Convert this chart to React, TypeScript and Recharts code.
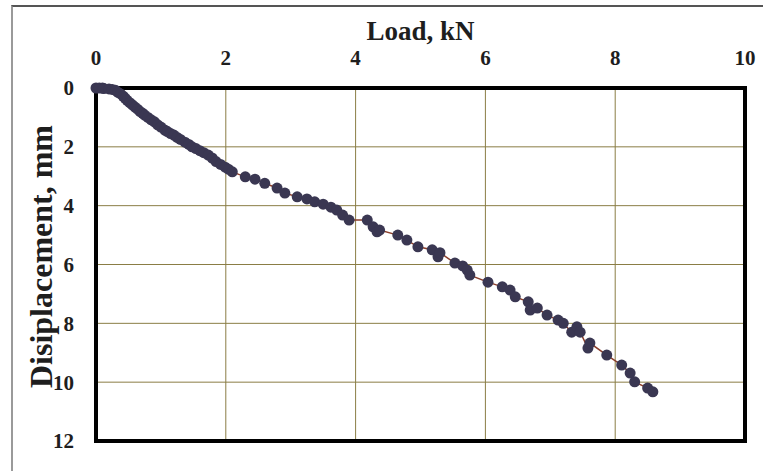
import React from "react"
import {
    CartesianGrid,
    Label,
    ReferenceArea,
    Scatter,
    ScatterChart,
    XAxis,
    YAxis,
} from "recharts"

// Load (kN) and measured displacement (mm) for each reading
const load = [
    0.0, 0.05, 0.1, 0.12, 0.2, 0.25, 0.3, 0.34, 0.38, 0.42, 0.45, 0.48, 0.52,
    0.56, 0.6, 0.64, 0.68, 0.72, 0.75, 0.8, 0.85, 0.9, 0.95, 1.0, 1.06, 1.1,
    1.15, 1.2, 1.25, 1.3, 1.37, 1.43, 1.48, 1.54, 1.6, 1.66, 1.73, 1.79, 1.85,
    1.92, 1.99, 2.04, 2.1, 2.3, 2.45, 2.6, 2.79, 2.91, 3.1, 3.25, 3.37, 3.5,
    3.62, 3.71, 3.8, 3.9, 4.18, 4.27, 4.33, 4.37, 4.65, 4.79, 4.96, 5.18, 5.27,
    5.3, 5.53, 5.65, 5.72, 5.76, 6.04, 6.26, 6.38, 6.46, 6.66, 6.69, 6.8, 6.95,
    7.12, 7.2, 7.33, 7.41, 7.46, 7.58, 7.61, 7.87, 8.1, 8.23, 8.3, 8.5, 8.58,
]
const displacement = [
    0.0, 0.0, 0.0, 0.02, 0.03, 0.05, 0.08, 0.15, 0.2, 0.28, 0.35, 0.42, 0.5,
    0.57, 0.65, 0.72, 0.8, 0.86, 0.92, 1.0, 1.08, 1.15, 1.25, 1.33, 1.43, 1.48,
    1.55, 1.6, 1.68, 1.75, 1.84, 1.92, 2.0, 2.06, 2.13, 2.2, 2.28, 2.38, 2.5,
    2.6, 2.69, 2.76, 2.85, 3.02, 3.1, 3.24, 3.4, 3.57, 3.7, 3.77, 3.87, 3.95,
    4.05, 4.15, 4.32, 4.49, 4.49, 4.72, 4.89, 4.83, 5.0, 5.17, 5.4, 5.5, 5.74,
    5.6, 5.95, 6.05, 6.19, 6.36, 6.6, 6.76, 6.87, 7.1, 7.27, 7.55, 7.48, 7.72,
    7.89, 8.0, 8.3, 8.12, 8.3, 8.84, 8.67, 9.08, 9.42, 9.69, 9.99, 10.2, 10.33,
]

const loadTicks = [0, 2, 4, 6, 8, 10]
const dispTicks = [0, 2, 4, 6, 8, 10, 12]

const data = load.map((x, i) => ({ load: x, disp: displacement[i] }))

const serif = "'Liberation Serif', 'Times New Roman', serif"
const tickStyle = { fill: "#1e1e1e", fontSize: 21, fontWeight: "bold", fontFamily: serif }

const Dot = (props: any) => (
    <circle cx={props.cx} cy={props.cy} r={5.5} fill="#3a3752" />
)

export default function App() {
    return (
        <div style={{ position: "absolute", left: 0, top: 0, width: 763, height: 471, background: "#fff", overflow: "hidden" }}>
            <div
                style={{
                    position: "absolute",
                    left: 11,
                    top: 5,
                    width: 760,
                    height: 480,
                    borderTop: "2px solid #555",
                    borderLeft: "2px solid #9a9a9a",
                }}
            />
            <div style={{ position: "absolute", left: 0, top: 0 }}>
                <ScatterChart
                    width={763}
                    height={471}
                    margin={{ top: 28, right: 18, bottom: 30, left: 36 }}
                >
                    <CartesianGrid stroke="#8a7d45" strokeWidth={1} />
                    <XAxis
                        type="number"
                        dataKey="load"
                        orientation="top"
                        domain={[0, 10]}
                        ticks={loadTicks}
                        height={60}
                        axisLine={false}
                        tickLine={false}
                        tickSize={0}
                        tickMargin={23}
                        tick={tickStyle}
                    >
                        <Label
                            content={({ viewBox }: any) => (
                                <text
                                    x={viewBox.x + viewBox.width / 2}
                                    y={viewBox.y + 12}
                                    textAnchor="middle"
                                    fontFamily={serif}
                                    fontWeight="bold"
                                    fontSize={27}
                                    fill="#1e1e1e"
                                >
                                    Load, kN
                                </text>
                            )}
                        />
                    </XAxis>
                    <YAxis
                        type="number"
                        dataKey="disp"
                        domain={[0, 12]}
                        reversed
                        ticks={dispTicks}
                        width={60}
                        axisLine={false}
                        tickLine={false}
                        tickSize={0}
                        tickMargin={22}
                        tick={tickStyle}
                    >
                        <Label
                            content={({ viewBox }: any) => {
                                const x = viewBox.x + 16
                                const y = viewBox.y + viewBox.height / 2 - 8
                                return (
                                    <text
                                        x={x}
                                        y={y}
                                        transform={`rotate(-90, ${x}, ${y})`}
                                        textAnchor="middle"
                                        fontFamily={serif}
                                        fontWeight="bold"
                                        fontSize={32}
                                        fill="#1e1e1e"
                                    >
                                        Disiplacement, mm
                                    </text>
                                )
                            }}
                        />
                    </YAxis>
                    <ReferenceArea
                        x1={0}
                        x2={10}
                        y1={0}
                        y2={12}
                        fill="none"
                        fillOpacity={0}
                        stroke="#000"
                        strokeWidth={4}
                        ifOverflow="visible"
                    />
                    <Scatter
                        data={data}
                        line={{ stroke: "#8b3f2c", strokeWidth: 1.5 }}
                        lineType="joint"
                        shape={Dot}
                        isAnimationActive={false}
                    />
                </ScatterChart>
            </div>
        </div>
    )
}
